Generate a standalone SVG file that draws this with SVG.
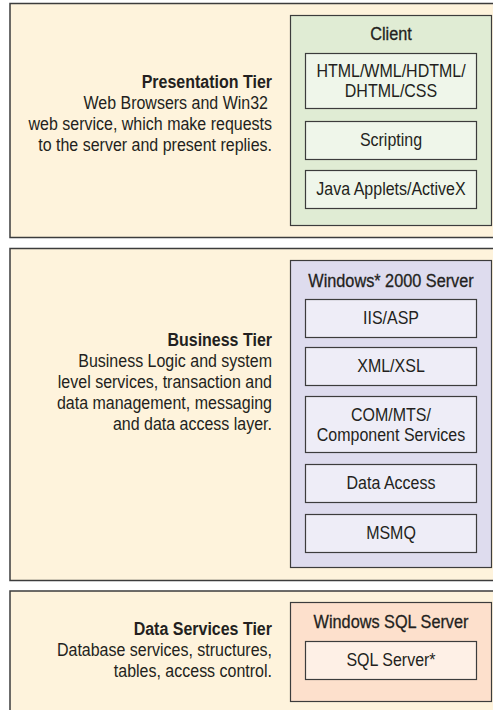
<svg xmlns="http://www.w3.org/2000/svg" width="493" height="710" viewBox="0 0 493 710">
<style>
.tier{fill:#fef3dc;stroke:#3c3c3c;stroke-width:1.5}
.box{stroke:#3c3c3c;stroke-width:1.2}
.g1{fill:#e0ecd4}.g2{fill:#eff6ea}
.p1{fill:#dedcee}.p2{fill:#eeedf7}
.o1{fill:#fde0cc}.o2{fill:#fef0e6}
text{font-family:"Liberation Sans",Arial,sans-serif;font-size:18.5px;fill:#231f20}
.r{text-anchor:end}.c{text-anchor:middle}.b{font-weight:bold}
.t{stroke:#231f20;stroke-width:0.3}
</style>
<rect width="493" height="710" fill="#ffffff"/>
<g id="presentation-tier">
<rect class="tier" x="10" y="3.5" width="500" height="234"/>
<text class="r b" transform="translate(272,88) scale(0.865,1)">Presentation Tier</text>
<text class="r" transform="translate(268,109) scale(0.865,1)">Web Browsers and Win32</text>
<text class="r" transform="translate(272,130) scale(0.865,1)">web service, which make requests</text>
<text class="r" transform="translate(272,151) scale(0.865,1)">to the server and present replies.</text>
</g>
<g id="client">
<rect class="box g1" x="290.5" y="15.5" width="201" height="210"/>
<text class="c t" transform="translate(391,40) scale(0.88,1)">Client</text>
</g>
<g id="html"><rect class="box g2" x="305.5" y="53.5" width="171" height="55"/>
<text class="c" transform="translate(391,77) scale(0.865,1)">HTML/WML/HDTML/</text><text class="c" transform="translate(391,97) scale(0.865,1)">DHTML/CSS</text></g>
<g id="scripting"><rect class="box g2" x="305.5" y="121.5" width="171" height="38"/>
<text class="c" transform="translate(391,146) scale(0.865,1)">Scripting</text></g>
<g id="java"><rect class="box g2" x="305.5" y="170.5" width="171" height="38"/>
<text class="c" transform="translate(391,195) scale(0.865,1)">Java Applets/ActiveX</text></g>

<g id="business-tier">
<rect class="tier" x="10" y="248.5" width="500" height="332"/>
<text class="r b" transform="translate(272,346) scale(0.865,1)">Business Tier</text>
<text class="r" transform="translate(272,367) scale(0.865,1)">Business Logic and system</text>
<text class="r" transform="translate(272,388) scale(0.865,1)">level services, transaction and</text>
<text class="r" transform="translate(272,409) scale(0.865,1)">data management, messaging</text>
<text class="r" transform="translate(272,430) scale(0.865,1)">and data access layer.</text>
</g>
<g id="win2000">
<rect class="box p1" x="290.5" y="260.5" width="201" height="307"/>
<text class="c t" transform="translate(391,287) scale(0.88,1)">Windows* 2000 Server</text>
</g>
<g id="iis"><rect class="box p2" x="305.5" y="299.5" width="171" height="38"/>
<text class="c" transform="translate(391,324) scale(0.865,1)">IIS/ASP</text></g>
<g id="xml"><rect class="box p2" x="305.5" y="347.5" width="171" height="38"/>
<text class="c" transform="translate(391,372) scale(0.865,1)">XML/XSL</text></g>
<g id="com"><rect class="box p2" x="305.5" y="396.5" width="171" height="56"/>
<text class="c" transform="translate(391,421) scale(0.865,1)">COM/MTS/</text><text class="c" transform="translate(391,441) scale(0.865,1)">Component Services</text></g>
<g id="data-access"><rect class="box p2" x="305.5" y="464.5" width="171" height="38"/>
<text class="c" transform="translate(391,489) scale(0.865,1)">Data Access</text></g>
<g id="msmq"><rect class="box p2" x="305.5" y="514.5" width="171" height="38"/>
<text class="c" transform="translate(391,539) scale(0.865,1)">MSMQ</text></g>

<g id="data-tier">
<rect class="tier" x="10" y="591" width="500" height="130"/>
<text class="r b" transform="translate(272,635) scale(0.865,1)">Data Services Tier</text>
<text class="r" transform="translate(272,656) scale(0.865,1)">Database services, structures,</text>
<text class="r" transform="translate(272,677) scale(0.865,1)">tables, access control.</text>
</g>
<g id="sqlwin">
<rect class="box o1" x="290.5" y="602.5" width="201" height="99"/>
<text class="c t" transform="translate(391,628) scale(0.88,1)">Windows SQL Server</text>
</g>
<g id="sql"><rect class="box o2" x="305.5" y="641.5" width="171" height="38"/>
<text class="c" transform="translate(391,666) scale(0.865,1)">SQL Server*</text></g>
<g id="connectors"></g>
</svg>
